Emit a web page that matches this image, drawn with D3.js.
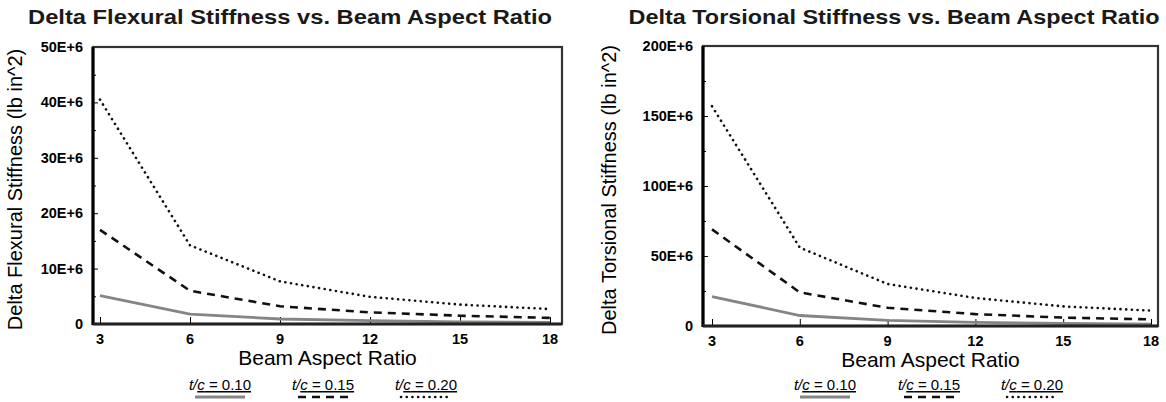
<!DOCTYPE html>
<html>
<head>
<meta charset="utf-8">
<script src="https://cdn.jsdelivr.net/npm/d3@7/dist/d3.min.js"></script>
<style>
  body { margin: 0; background: #fff; }
  svg { display: block; font-family: "Liberation Sans", Arial, sans-serif; }
</style>
</head>
<body>
<svg id="chart" width="1166" height="402"></svg>
<script>
// beam aspect ratios
const aspectRatios = [3, 6, 9, 12, 15, 18];
const xTicks = [3, 6, 9, 12, 15, 18];

// delta flexural stiffness (lb in^2)
const flexTc10 = [5.1e6, 1.8e6, 0.9e6, 0.6e6, 0.4e6, 0.3e6];
const flexTc15 = [17.0e6, 6.0e6, 3.2e6, 2.1e6, 1.5e6, 1.1e6];
const flexTc20 = [40.5e6, 14.2e6, 7.7e6, 4.9e6, 3.5e6, 2.7e6];
const flexTicks = [0, 10e6, 20e6, 30e6, 40e6, 50e6];

// delta torsional stiffness (lb in^2)
const torsTc10 = [21e6, 7.5e6, 4.0e6, 2.6e6, 1.8e6, 1.3e6];
const torsTc15 = [69e6, 24e6, 13e6, 8.5e6, 6.0e6, 4.7e6];
const torsTc20 = [157e6, 56e6, 30e6, 20e6, 14e6, 11e6];
const torsTicks = [0, 50e6, 100e6, 150e6, 200e6];

const seriesNames = ["0.10", "0.15", "0.20"];

const styles = [
  { stroke: "#858585", width: 2.8, dash: null, cap: "butt" },
  { stroke: "#111", width: 2.6, dash: "8,6", cap: "butt" },
  { stroke: "#111", width: 2.6, dash: "0.1,5.6", cap: "round" }
];

const fmt = d => d === 0 ? "0" : (d / 1e6) + "E+6";

const svg = d3.select("#chart");

function panel(opt) {
  const g = svg.append("g");
  // pixel positions of x=3 and x=18 fix the scale; frame extends a little beyond
  const x = d3.scaleLinear().domain([3, 18]).range([opt.x3, opt.x18]);
  const y = d3.scaleLinear().domain([0, opt.max]).range([opt.bottom, opt.top]);

  // title
  g.append("text")
    .attr("x", opt.titleX).attr("y", 24)
    .attr("text-anchor", "middle")
    .attr("font-size", 21).attr("font-weight", "bold")
    .attr("fill", "#1a1a1a")
    .attr("textLength", opt.titleLen).attr("lengthAdjust", "spacingAndGlyphs")
    .text(opt.title);

  // y axis ticks (inward) with minor ticks
  g.append("g").attr("transform", `translate(${opt.left},0)`)
    .call(d3.axisRight(y).tickValues(opt.ticks).tickSize(5).tickFormat(""))
    .call(a => a.select(".domain").remove());
  const step = opt.max / (opt.ticks.length - 1);
  const minor = opt.ticks.slice(0, -1).map(d => d + step / 2);
  g.append("g").attr("transform", `translate(${opt.left},0)`)
    .call(d3.axisRight(y).tickValues(minor).tickSize(3).tickFormat(""))
    .call(a => a.select(".domain").remove());

  g.selectAll(".ylab").data(opt.ticks).join("text")
    .attr("x", opt.left - 10).attr("y", d => y(d) + 5)
    .attr("text-anchor", "end")
    .attr("font-size", 14.5).attr("font-weight", "bold")
    .text(fmt);

  // x axis ticks (inward)
  g.append("g").attr("transform", `translate(0,${opt.bottom})`)
    .call(d3.axisTop(x).tickValues(xTicks).tickSize(7).tickFormat(""))
    .call(a => a.select(".domain").remove());

  g.selectAll(".xlab").data(xTicks).join("text")
    .attr("x", d => x(d)).attr("y", opt.bottom + 20)
    .attr("text-anchor", "middle")
    .attr("font-size", 14.5).attr("font-weight", "bold")
    .text(d => d);

  // series lines
  const line = d3.line().x((d, i) => x(aspectRatios[i])).y(d => y(d));
  opt.series.forEach((s, i) => {
    const st = styles[i];
    g.append("path").datum(s)
      .attr("d", line)
      .attr("fill", "none")
      .attr("stroke", st.stroke)
      .attr("stroke-width", st.width)
      .attr("stroke-linecap", st.cap)
      .attr("stroke-dasharray", st.dash);
  });

  // frame
  g.append("rect")
    .attr("x", opt.left).attr("y", opt.top)
    .attr("width", opt.right - opt.left).attr("height", opt.bottom - opt.top)
    .attr("fill", "none").attr("stroke", "#333").attr("stroke-width", 2.2);
  g.append("line")
    .attr("x1", opt.left).attr("x2", opt.left)
    .attr("y1", opt.top).attr("y2", opt.bottom + 1)
    .attr("stroke", "#000").attr("stroke-width", 3.2);
  g.append("line")
    .attr("x1", opt.left).attr("x2", opt.right)
    .attr("y1", opt.bottom).attr("y2", opt.bottom)
    .attr("stroke", "#222").attr("stroke-width", 3);

  // axis titles
  g.append("text")
    .attr("x", (opt.left + opt.right) / 2).attr("y", opt.bottom + 41)
    .attr("text-anchor", "middle").attr("font-size", 21)
    .text("Beam Aspect Ratio");
  g.append("text")
    .attr("transform", `translate(${opt.ylabX},${(opt.top + opt.bottom) / 2 + 4}) rotate(-90)`)
    .attr("text-anchor", "middle").attr("font-size", 20)
    .text(opt.ylabel);

  // legend
  seriesNames.forEach((n, i) => {
    const cx = opt.legendX[i];
    const t = g.append("text")
      .attr("x", cx).attr("y", 390)
      .attr("text-anchor", "middle").attr("font-size", 15);
    t.append("tspan").attr("font-style", "italic").text("t/");
    t.append("tspan").attr("font-style", "italic").attr("text-decoration", "underline").text("c");
    t.append("tspan").attr("text-decoration", "underline").text(" = " + n);
    const st = styles[i];
    g.append("line")
      .attr("x1", cx - 25).attr("x2", cx + 25)
      .attr("y1", 397).attr("y2", 397)
      .attr("stroke", st.stroke)
      .attr("stroke-width", st.width)
      .attr("stroke-linecap", st.cap)
      .attr("stroke-dasharray", st.dash);
  });
}

panel({
  title: "Delta Flexural Stiffness vs. Beam Aspect Ratio",
  titleX: 290, titleLen: 524,
  ylabel: "Delta Flexural Stiffness (lb in^2)",
  ylabX: 22,
  left: 93, right: 562, top: 47, bottom: 324,
  x3: 100, x18: 550,
  max: 50e6, ticks: flexTicks,
  series: [flexTc10, flexTc15, flexTc20],
  legendX: [220, 323, 426]
});

panel({
  title: "Delta Torsional Stiffness vs. Beam Aspect Ratio",
  titleX: 894, titleLen: 531,
  ylabel: "Delta Torsional Stiffness (lb in^2)",
  ylabX: 616,
  left: 703, right: 1158, top: 46, bottom: 326,
  x3: 712, x18: 1151,
  max: 200e6, ticks: torsTicks,
  series: [torsTc10, torsTc15, torsTc20],
  legendX: [825, 929, 1032]
});
</script>
</body>
</html>
